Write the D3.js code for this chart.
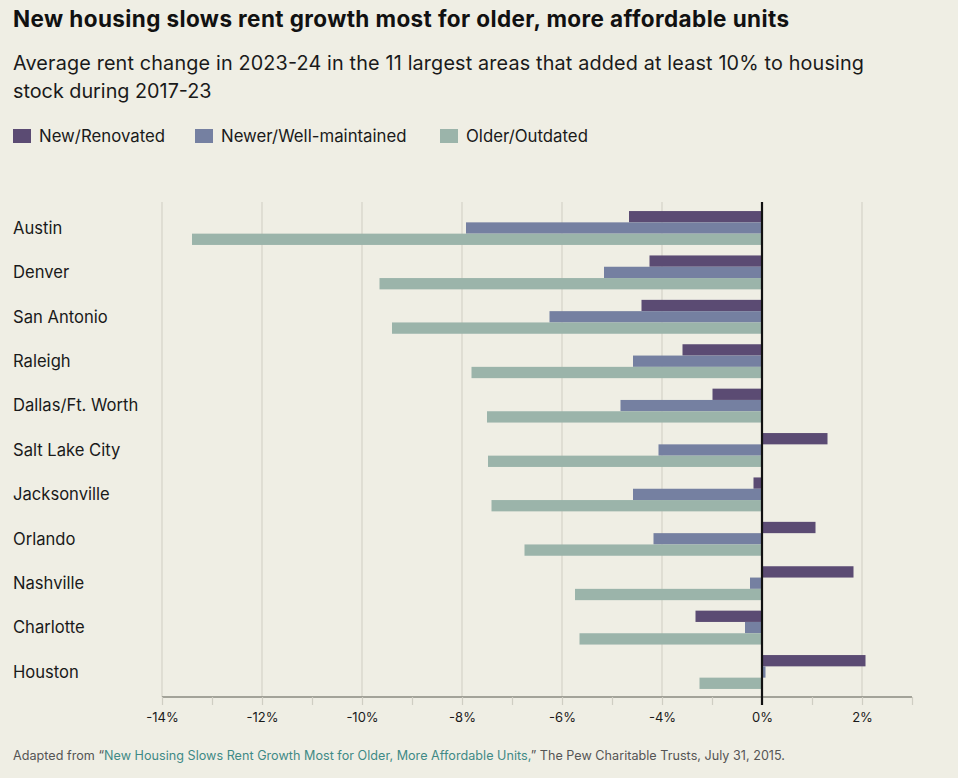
<!DOCTYPE html>
<html>
<head>
<meta charset="utf-8">
<script src="https://cdn.jsdelivr.net/npm/d3@7"></script>
<style>
  html, body { margin: 0; padding: 0; background: #efeee4; }
  svg { display: block; font-family: Inter, "Noto Sans", sans-serif; }
</style>
</head>
<body>
<svg id="chart" width="958" height="778"></svg>
<script>
const cities = ["Austin", "Denver", "San Antonio", "Raleigh", "Dallas/Ft. Worth", "Salt Lake City",
  "Jacksonville", "Orlando", "Nashville", "Charlotte", "Houston"];
const seriesNames = ["New/Renovated", "Newer/Well-maintained", "Older/Outdated"];
const newRenovated = [-2.66, -2.25, -2.41, -1.59, -0.99, 1.31, -0.17, 1.07, 1.83, -1.33, 2.07];
const newerWellMaintained = [-5.92, -3.16, -4.25, -2.58, -2.83, -2.07, -2.58, -2.17, -0.24, -0.34, 0.07];
const olderOutdated = [-11.40, -7.65, -7.40, -5.81, -5.50, -5.48, -5.41, -4.75, -3.74, -3.65, -1.25];
const tickValues = [-12, -10, -8, -6, -4, -2, 0, 2];
const tickLabels = ["-14%", "-12%", "-10%", "-8%", "-6%", "-4%", "0%", "2%"];
const minorTicks = [-12, -11, -10, -9, -8, -7, -6, -5, -4, -3, -2, -1, 0, 1, 2, 3];

const colors = ["#5b4b73", "#7580a1", "#9bb4aa"];
const seriesValues = [newRenovated, newerWellMaintained, olderOutdated];

const svg = d3.select("#chart");
const font = 'Inter, "Noto Sans", sans-serif';

// Title & subtitle
svg.append("text").attr("x", 13).attr("y", 27)
  .attr("font-size", 22.5).attr("font-weight", 700).attr("fill", "#111")
  .attr("textLength", 776).attr("lengthAdjust", "spacing")
  .text("New housing slows rent growth most for older, more affordable units");
svg.append("text").attr("x", 13).attr("y", 70)
  .attr("font-size", 19.8).attr("fill", "#1a1a1a")
  .attr("textLength", 851).attr("lengthAdjust", "spacing")
  .text("Average rent change in 2023-24 in the 11 largest areas that added at least 10% to housing");
svg.append("text").attr("x", 13).attr("y", 98)
  .attr("font-size", 19.8).attr("fill", "#1a1a1a")
  .text("stock during 2017-23");

// Legend
const legendX = [13, 195, 440];
const legend = svg.append("g");
seriesNames.forEach((n, i) => {
  legend.append("rect").attr("x", legendX[i]).attr("y", 129).attr("width", 18).attr("height", 14)
    .attr("fill", colors[i]);
  legend.append("text").attr("x", legendX[i] + 26).attr("y", 142)
    .attr("font-size", 16.8).attr("fill", "#1a1a1a").text(n);
});

// Scales
const x = d3.scaleLinear().domain([-12, 3]).range([162, 912]);
const y = d3.scaleBand().domain(cities).range([205.8, 694.2]).paddingInner(0).paddingOuter(0);
const barH = 11.3;

// Gridlines
svg.append("g").selectAll("line").data(tickValues.filter(d => d !== 0)).join("line")
  .attr("x1", d => x(d)).attr("x2", d => x(d)).attr("y1", 202).attr("y2", 697)
  .attr("stroke", "#d4d3c8").attr("stroke-width", 1.2);

// Axis
const axisG = svg.append("g").attr("transform", "translate(0,697)");
axisG.call(d3.axisBottom(x).tickValues(minorTicks).tickSize(8).tickFormat(""));
axisG.select(".domain").attr("stroke", "#8a8a80").attr("stroke-width", 1.5)
  .attr("d", `M${x(-12)},0H${x(3)}`);
axisG.selectAll(".tick line").attr("stroke", "#cfcec3").attr("stroke-width", 1.2);
const labelAxis = svg.append("g").attr("transform", "translate(0,697)");
labelAxis.call(d3.axisBottom(x).tickValues(tickValues).tickSize(0).tickPadding(16)
  .tickFormat((d, i) => tickLabels[i]));
labelAxis.select(".domain").remove();
labelAxis.selectAll("text").attr("font-family", font).attr("font-size", 13).attr("fill", "#1a1a1a");

// Bars
const groups = svg.append("g").selectAll("g").data(cities).join("g")
  .attr("transform", d => `translate(0,${y(d) + y.bandwidth() / 2 - barH * 1.5})`);
groups.selectAll("rect").data((c, ci) => seriesValues.map((s, si) => ({ v: s[ci], si })))
  .join("rect")
  .attr("x", d => x(Math.min(0, d.v)))
  .attr("width", d => Math.abs(x(d.v) - x(0)))
  .attr("y", d => d.si * barH)
  .attr("height", barH)
  .attr("fill", d => colors[d.si]);

// Zero line
svg.append("line").attr("x1", x(0)).attr("x2", x(0)).attr("y1", 202).attr("y2", 705)
  .attr("stroke", "#111").attr("stroke-width", 2.2);

// City labels
svg.append("g").selectAll("text").data(cities).join("text")
  .attr("x", 13).attr("y", d => y(d) + y.bandwidth() / 2)
  .attr("dy", "0.35em").attr("font-size", 16.6).attr("fill", "#1a1a1a").text(d => d);

// Footer
const foot = svg.append("text").attr("x", 13).attr("y", 760).attr("font-size", 12.6).attr("fill", "#555")
  .attr("textLength", 772).attr("lengthAdjust", "spacing");
foot.append("tspan").text("Adapted from \u201c");
foot.append("tspan").attr("fill", "#3f8a86").text("New Housing Slows Rent Growth Most for Older, More Affordable Units,");
foot.append("tspan").text("\u201d The Pew Charitable Trusts, July 31, 2015.");
</script>
</body>
</html>
